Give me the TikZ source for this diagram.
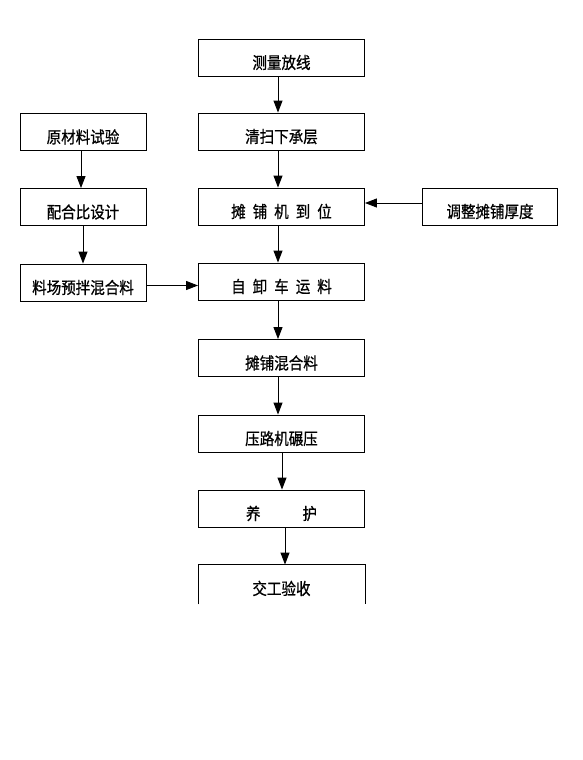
\documentclass[tikz,border=0pt]{standalone}
\usepackage{fontspec}
\setmainfont{Noto Sans CJK SC}
\newfontfamily\boxfont{Noto Sans CJK SC}[FakeBold=0.8,FakeStretch=0.88]
\usetikzlibrary{arrows.meta}

\begin{document}
\begin{tikzpicture}[
  x=1pt,y=-1pt,
  box/.style={draw,line width=0.9pt,minimum height=37pt,inner sep=0pt,
    font=\boxfont\fontsize{16.5pt}{16.5pt}\selectfont,text height=22.5pt,text depth=0pt},
  mainbox/.style={box,minimum width=166pt},
  sidebox/.style={box,minimum width=126pt},
  >={Triangle[length=12pt,width=9pt]}
]
  \useasboundingbox (0,0) rectangle (582,760);
  % main column
  \node[mainbox] (cl) at (281.5,57.5) {测量放线};
  \node[mainbox] (qs) at (281.5,131.5) {清扫下承层};
  \node[mainbox] (tp) at (281.5,206.5) {摊\hspace{7pt}铺\hspace{7pt}机\hspace{7pt}到\hspace{7pt}位};
  \node[mainbox] (zx) at (281.5,281.5) {自\hspace{7pt}卸\hspace{7pt}车\hspace{7pt}运\hspace{7pt}料};
  \node[mainbox] (hl) at (281.5,358) {摊铺混合料};
  \node[mainbox] (yl) at (281.5,433.5) {压路机碾压};
  \node[mainbox] (yh) at (281.5,508.5) {养\hspace{42pt}护};
  \node[mainbox,draw=none] (jg) at (281.5,583.5) {交工验收};
  \draw[line width=0.9pt] ([yshift=-2pt]jg.south west) -- (jg.north west)
    -- (jg.north east) -- ([yshift=-2pt]jg.south east);
  % left column
  \node[sidebox] (ycl) at (83,132) {原材料试验};
  \node[sidebox] (phb) at (83,207) {配合比设计};
  \node[sidebox] (ylc) at (83,282.5) {料场预拌混合料};
  % right box
  \node[box,minimum width=135pt] (tz) at (490,206.5) {调整摊铺厚度};
  % arrows
  \foreach \a/\b/\s in {cl/qs/-3.5,qs/tp/-3.5,tp/zx/-3.5,zx/hl/-3.5,hl/yl/-3.5,yl/yh/0.5,yh/jg/3.5}{
    \draw[->,line width=0.9pt] ([xshift=\s pt]\a.south) -- ([xshift=\s pt]\b.north);
  }
  \draw[->,line width=0.9pt] ([xshift=-2pt]ycl.south) -- ([xshift=-2pt]phb.north);
  \draw[->,line width=0.9pt] (phb.south) -- (ylc.north);
  \draw[->,line width=0.9pt] ([yshift=-3pt]ylc.east) -- ([yshift=-3pt]ylc.east -| zx.west);
  \draw[->,line width=0.9pt] ([yshift=3.5pt]tz.west) -- ([yshift=3.5pt]tz.west -| tp.east);
\end{tikzpicture}
\end{document}
